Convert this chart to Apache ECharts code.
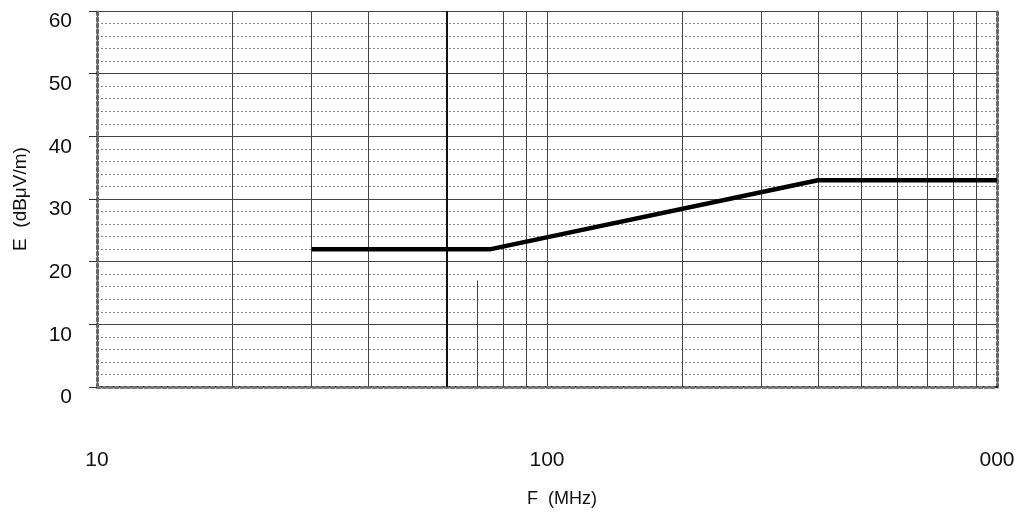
<!DOCTYPE html>
<html>
<head>
<meta charset="utf-8">
<script src="https://cdn.jsdelivr.net/npm/echarts@6/dist/echarts.min.js"></script>
<style>
html,body{margin:0;padding:0;background:#fff;overflow:hidden;}
#chart{width:1030px;height:515px;}
</style>
</head>
<body>
<div id="chart"></div>
<script>
// Limit line: frequency (MHz) vs field strength (dBµV/m)
var freqMHz = [30, 75, 400, 1000];
var fieldDb = [22, 22, 33, 33];
// vertical grid positions on the log frequency axis (as printed on the sheet)
var gridFreqs = [20, 30, 40, 60, 80, 90, 200, 300, 400, 500, 600, 700, 800, 900];
// partial vertical line (freq, top value)
var partialFreq = [70];
var partialTop = [17];
// x tick labels as printed
var xTickLabels = {10: '10', 100: '100', 1000: '000'};
var yTicks = [0, 10, 20, 30, 40, 50, 60];

var limitData = freqMHz.map(function (f, i) { return [f, fieldDb[i]]; });

var chart = echarts.init(document.getElementById('chart'), null, {renderer: 'canvas'});
var font = 'Liberation Sans, Arial, sans-serif';

var markData = gridFreqs.map(function (f) {
  return {xAxis: f, lineStyle: {width: f === 60 ? 2 : 1, color: f === 60 ? '#111' : '#444'}};
});
partialFreq.forEach(function (f, i) {
  markData.push([{coord: [f, 0]}, {coord: [f, partialTop[i]]}]);
});

chart.setOption({
  animation: false,
  backgroundColor: '#fff',
  grid: {left: 97, right: 33, top: 11, bottom: 128, containLabel: false, outerBoundsMode: 'none'},
  xAxis: [{
    type: 'log',
    logBase: 10,
    min: 10,
    max: 1000,
    name: 'F  (MHz)',
    nameLocation: 'middle',
    nameGap: 103,
    nameTextStyle: {color: '#111', fontSize: 18, fontFamily: font, padding: [0, 0, 0, 30]},
    axisLine: {show: true, lineStyle: {color: '#222', width: 2}},
    axisTick: {show: false},
    axisLabel: {
      show: true, margin: 63, color: '#111', fontSize: 21, fontFamily: font,
      formatter: function (v) { return xTickLabels[Math.round(v)] || ''; }
    },
    splitLine: {show: true, lineStyle: {color: '#444', width: 1}}
  }, {
    type: 'log',
    logBase: 10,
    min: 10,
    max: 1000,
    position: 'top',
    axisLine: {show: true, lineStyle: {color: '#777', width: 3, type: 'dotted'}},
    axisTick: {show: false},
    axisLabel: {show: false},
    splitLine: {show: false}
  }],
  yAxis: [{
    type: 'value',
    min: 0,
    max: 60,
    interval: 10,
    name: 'E  (dBμV/m)',
    nameLocation: 'middle',
    nameGap: 67,
    nameRotate: 90,
    nameTextStyle: {color: '#111', fontSize: 19, fontFamily: font},
    axisLine: {show: true, lineStyle: {color: '#666', width: 3, type: 'dotted'}},
    axisTick: {show: true, length: 8, lineStyle: {color: '#333', width: 1}},
    axisLabel: {
      show: true, margin: 25, color: '#111', fontSize: 21, fontFamily: font,
      verticalAlign: 'top',
      formatter: function (v) { return yTicks.indexOf(v) >= 0 ? String(v) : ''; }
    },
    splitLine: {show: true, lineStyle: {color: '#444', width: 1}},
    minorTick: {show: false, splitNumber: 5},
    minorSplitLine: {show: true, lineStyle: {color: '#888', width: 1, type: [2, 2]}}
  }, {
    type: 'value',
    min: 0,
    max: 60,
    interval: 10,
    position: 'right',
    axisLine: {show: true, lineStyle: {color: '#666', width: 3, type: 'dotted'}},
    axisTick: {show: false},
    axisLabel: {show: false},
    splitLine: {show: false}
  }],
  series: [{
    type: 'line',
    xAxisIndex: 0,
    yAxisIndex: 0,
    data: [],
    silent: true,
    markLine: {
      silent: true,
      symbol: ['none', 'none'],
      label: {show: false},
      lineStyle: {color: '#444', width: 1, type: 'solid'},
      data: markData
    }
  }, {
    type: 'line',
    xAxisIndex: 0,
    yAxisIndex: 0,
    data: limitData,
    showSymbol: false,
    symbol: 'none',
    lineStyle: {color: '#000', width: 4.5},
    z: 10
  }]
});
</script>
</body>
</html>
